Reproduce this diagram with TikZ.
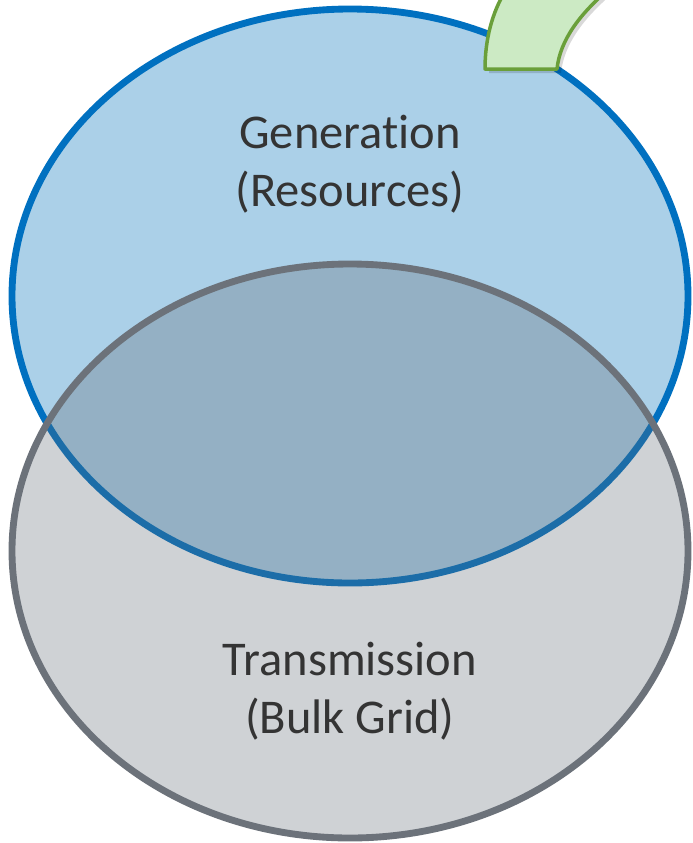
\documentclass[tikz,border=0pt]{standalone}
\usepackage{fontspec}
\setmainfont{Carlito}[Ligatures=NoCommon]
\usepackage{xcolor}
\usetikzlibrary{positioning}
\definecolor{genfill}{RGB}{171,208,232}
\definecolor{genline}{RGB}{0,112,192}
\definecolor{trnfill}{RGB}{95,105,115}
\definecolor{trnline}{RGB}{108,114,122}
\definecolor{arrfill}{RGB}{204,234,196}
\definecolor{arrline}{RGB}{106,159,58}
\definecolor{txt}{RGB}{52,52,52}
\tikzset{
  lbl/.style={align=center,text=txt,font=\fontsize{27.6}{33}\selectfont},
}
\begin{document}
\begin{tikzpicture}[x=0.02cm,y=-0.02cm]
\useasboundingbox (0,0) rectangle (693,843);
% generation
\filldraw[fill=genfill,draw=genline,line width=3.9pt] (350,296) ellipse (338 and 287);
\node[lbl] (gen) at (350,164) {Generation\\(Resources)};
% transmission
\fill[trnfill,opacity=0.3] (350,551) ellipse (338 and 287);
\draw[trnline,line width=3.9pt] (350,551) ellipse (338 and 287);
\node[lbl] (trn) at (350,691) {Transmission\\(Bulk Grid)};
\begin{scope}
\clip (0,0) rectangle (693,843);
% arrow tail
\fill[black,opacity=0.15] (489,73) -- (561,73) .. controls (564,44) and (584,18) .. (612,-6) -- (510,-6) .. controls (496,16) and (489,42) .. cycle;
\filldraw[fill=arrfill,draw=arrline,line width=0.7mm,line join=round] (485,69) -- (557,69) .. controls (560,40) and (580,14) .. (608,-10) -- (506,-10) .. controls (492,12) and (485,40) .. cycle;
\end{scope}
\end{tikzpicture}
\end{document}
